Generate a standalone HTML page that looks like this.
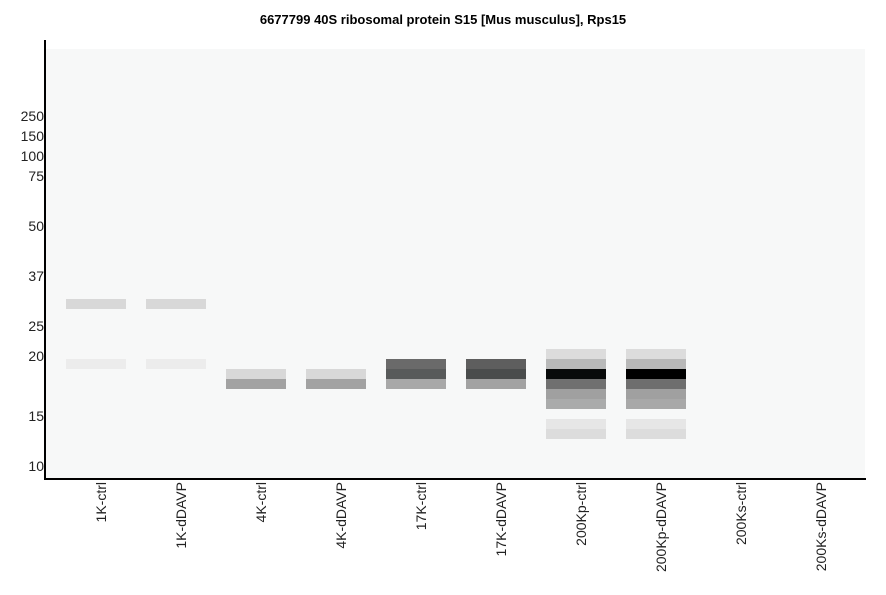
<!DOCTYPE html>
<html><head><style>body{margin:0;background:#fff}svg{display:block}</style></head>
<body>
<svg width="886" height="595" xmlns="http://www.w3.org/2000/svg" font-family="Liberation Sans, sans-serif">
<rect width="886" height="595" fill="#fff"/>
<text x="443" y="24" text-anchor="middle" font-size="13" font-weight="bold">6677799 40S ribosomal protein S15 [Mus musculus], Rps15</text>
<rect x="46" y="49" width="819" height="430" fill="#f7f8f8"/>
<g font-size="14" text-anchor="end" fill="#222">
<text x="44" y="121">250</text><text x="44" y="141">150</text><text x="44" y="161">100</text><text x="44" y="181">75</text>
<text x="44" y="231">50</text><text x="44" y="281">37</text><text x="44" y="331">25</text><text x="44" y="361">20</text>
<text x="44" y="421">15</text><text x="44" y="471">10</text>
</g>
<g>
<rect x="66" y="299" width="60" height="10" fill="#d8d8d8"/><rect x="66" y="359" width="60" height="10" fill="#ececec"/>
<rect x="146" y="299" width="60" height="10" fill="#d8d8d8"/><rect x="146" y="359" width="60" height="10" fill="#ececec"/>
<rect x="226" y="369" width="60" height="10" fill="#d8d8d8"/><rect x="226" y="379" width="60" height="10" fill="#a2a2a2"/>
<rect x="306" y="369" width="60" height="10" fill="#d8d8d8"/><rect x="306" y="379" width="60" height="10" fill="#a2a2a2"/>
<rect x="386" y="359" width="60" height="10" fill="#6a6a6a"/><rect x="386" y="369" width="60" height="10" fill="#585a5a"/><rect x="386" y="379" width="60" height="10" fill="#a8a8a8"/>
<rect x="466" y="359" width="60" height="10" fill="#5e5e5e"/><rect x="466" y="369" width="60" height="10" fill="#4a4c4c"/><rect x="466" y="379" width="60" height="10" fill="#a2a2a2"/>
<rect x="546" y="349" width="60" height="10" fill="#dcdcdc"/><rect x="546" y="359" width="60" height="10" fill="#b8b9b9"/><rect x="546" y="369" width="60" height="10" fill="#080a0a"/><rect x="546" y="379" width="60" height="10" fill="#707070"/><rect x="546" y="389" width="60" height="10" fill="#a0a0a0"/><rect x="546" y="399" width="60" height="10" fill="#aaabab"/><rect x="546" y="419" width="60" height="10" fill="#e6e6e6"/><rect x="546" y="429" width="60" height="10" fill="#dcdcdc"/>
<rect x="626" y="349" width="60" height="10" fill="#dcdcdc"/><rect x="626" y="359" width="60" height="10" fill="#b8b8b8"/><rect x="626" y="369" width="60" height="10" fill="#000"/><rect x="626" y="379" width="60" height="10" fill="#6e6e6e"/><rect x="626" y="389" width="60" height="10" fill="#a0a0a0"/><rect x="626" y="399" width="60" height="10" fill="#a8a8a8"/><rect x="626" y="419" width="60" height="10" fill="#e6e6e6"/><rect x="626" y="429" width="60" height="10" fill="#dcdcdc"/>
</g>
<rect x="44" y="40" width="2" height="440" fill="#000"/>
<rect x="44" y="478" width="822" height="2" fill="#000"/>
<g font-size="14" fill="#222" text-anchor="end">
<text transform="translate(106,482) rotate(-90)">1K-ctrl</text>
<text transform="translate(186,482) rotate(-90)">1K-dDAVP</text>
<text transform="translate(266,482) rotate(-90)">4K-ctrl</text>
<text transform="translate(346,482) rotate(-90)">4K-dDAVP</text>
<text transform="translate(426,482) rotate(-90)">17K-ctrl</text>
<text transform="translate(506,482) rotate(-90)">17K-dDAVP</text>
<text transform="translate(586,482) rotate(-90)">200Kp-ctrl</text>
<text transform="translate(666,482) rotate(-90)">200Kp-dDAVP</text>
<text transform="translate(746,482) rotate(-90)">200Ks-ctrl</text>
<text transform="translate(826,482) rotate(-90)">200Ks-dDAVP</text>
</g>
</svg>
</body></html>
